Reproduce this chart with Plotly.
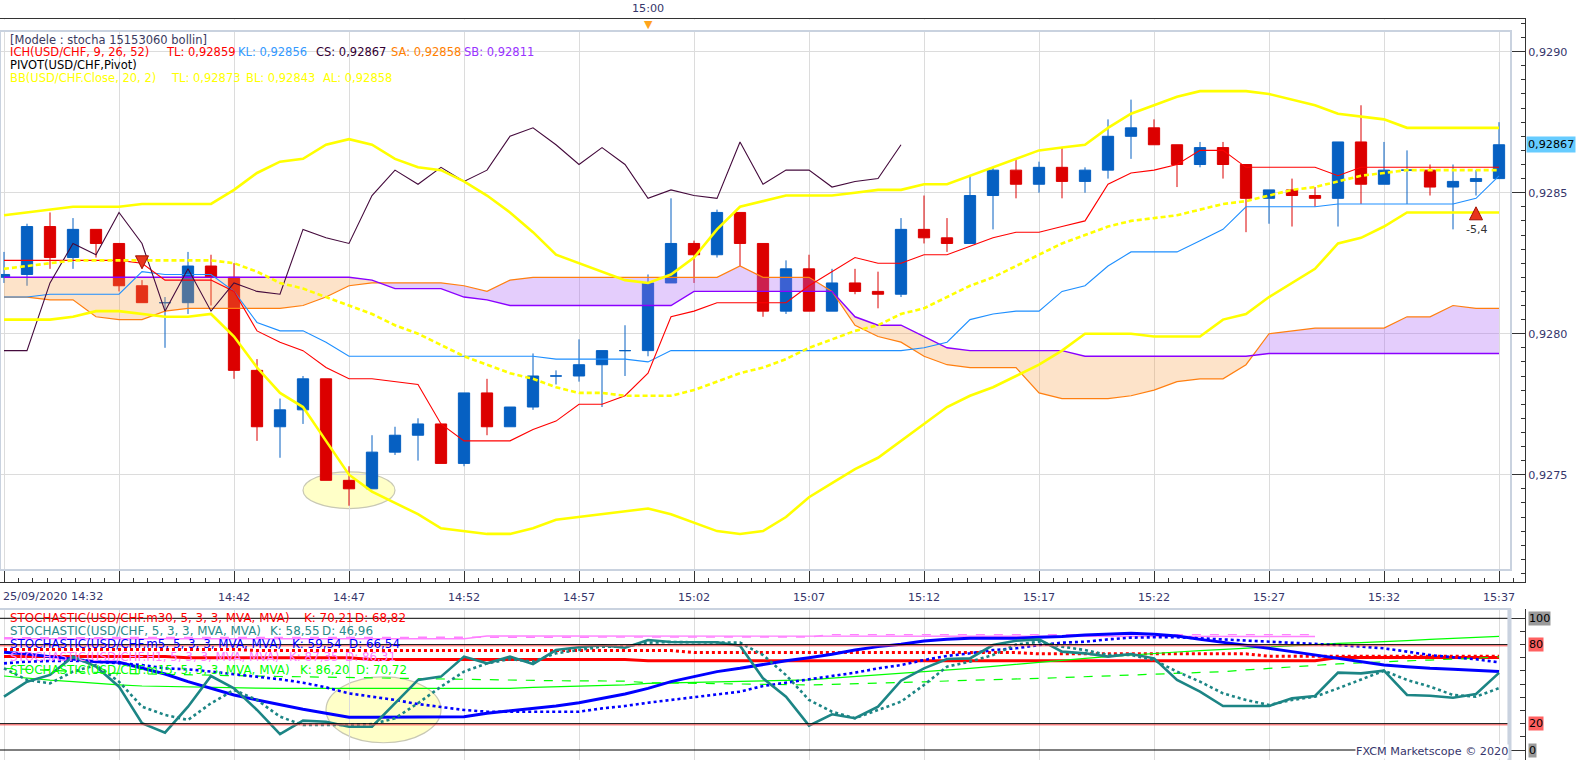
import plotly.graph_objects as go
import pandas as pd

# ---------------- data (USD/CHF, 1-minute bars, 25/09/2020) ----------------
START = "2020-09-25 14:32:00"
N_BARS = 66
times = [t.strftime("%Y-%m-%d %H:%M:%S") for t in pd.date_range(START, periods=N_BARS, freq="min")]

open_ = [0.92820, 0.92821, 0.92838, 0.92827, 0.92837, 0.92832, 0.92817, 0.92811, 0.92811, 0.92824,
         0.92820, 0.92787, 0.92767, 0.92773, 0.92784, 0.92748, 0.92745, 0.92758, 0.92764, 0.92768,
         0.92754, 0.92779, 0.92767, 0.92774, 0.92785, 0.92785, 0.92789, 0.92794, 0.92794, 0.92818,
         0.92832, 0.92828, 0.92843, 0.92832, 0.92808, 0.92823, 0.92808, 0.92818, 0.92815, 0.92814,
         0.92837, 0.92834, 0.92832, 0.92849, 0.92858, 0.92853, 0.92859, 0.92854, 0.92858, 0.92870,
         0.92873, 0.92867, 0.92860, 0.92866, 0.92860, 0.92848, 0.92851, 0.92849, 0.92848, 0.92868,
         0.92853, 0.92858, 0.92858, 0.92852, 0.92854, 0.92855]
high = [0.92829, 0.92839, 0.92843, 0.92841, 0.92837, 0.92832, 0.92819, 0.92813, 0.92829, 0.92828,
        0.92825, 0.92791, 0.92777, 0.92785, 0.92784, 0.92753, 0.92764, 0.92767, 0.92770, 0.92768,
        0.92779, 0.92784, 0.92774, 0.92793, 0.92787, 0.92798, 0.92794, 0.92803, 0.92821, 0.92848,
        0.92833, 0.92844, 0.92843, 0.92832, 0.92826, 0.92828, 0.92823, 0.92823, 0.92822, 0.92841,
        0.92849, 0.92841, 0.92856, 0.92859, 0.92862, 0.92861, 0.92866, 0.92859, 0.92876, 0.92883,
        0.92876, 0.92867, 0.92868, 0.92868, 0.92860, 0.92851, 0.92855, 0.92852, 0.92868, 0.92881,
        0.92868, 0.92865, 0.92860, 0.92860, 0.92858, 0.92875]
low = [0.92818, 0.92817, 0.92823, 0.92823, 0.92827, 0.92815, 0.92811, 0.92795, 0.92807, 0.92810,
       0.92784, 0.92762, 0.92756, 0.92768, 0.92748, 0.92739, 0.92745, 0.92757, 0.92755, 0.92754,
       0.92753, 0.92764, 0.92767, 0.92773, 0.92782, 0.92783, 0.92774, 0.92785, 0.92792, 0.92818,
       0.92818, 0.92827, 0.92824, 0.92806, 0.92807, 0.92808, 0.92808, 0.92814, 0.92809, 0.92813,
       0.92832, 0.92829, 0.92832, 0.92837, 0.92848, 0.92850, 0.92848, 0.92850, 0.92855, 0.92862,
       0.92867, 0.92852, 0.92859, 0.92855, 0.92836, 0.92839, 0.92838, 0.92845, 0.92838, 0.92846,
       0.92853, 0.92846, 0.92849, 0.92837, 0.92849, 0.92855]
close = [0.92821, 0.92838, 0.92827, 0.92837, 0.92832, 0.92817, 0.92811, 0.92811, 0.92824, 0.92820,
         0.92787, 0.92767, 0.92773, 0.92784, 0.92748, 0.92745, 0.92758, 0.92764, 0.92768, 0.92754,
         0.92779, 0.92767, 0.92774, 0.92785, 0.92785, 0.92789, 0.92794, 0.92794, 0.92818, 0.92832,
         0.92828, 0.92843, 0.92832, 0.92808, 0.92823, 0.92808, 0.92818, 0.92815, 0.92814, 0.92837,
         0.92834, 0.92832, 0.92849, 0.92858, 0.92853, 0.92859, 0.92854, 0.92858, 0.92870, 0.92873,
         0.92867, 0.92860, 0.92866, 0.92860, 0.92848, 0.92851, 0.92849, 0.92848, 0.92868, 0.92853,
         0.92858, 0.92858, 0.92852, 0.92854, 0.92855, 0.92867]

# Bollinger(20, 2)
bb_upper = [0.92842, 0.92843, 0.92844, 0.92845, 0.92845, 0.92845, 0.92846, 0.92846, 0.92846, 0.92846,
            0.92851, 0.92857, 0.92861, 0.92862, 0.92867, 0.92869, 0.92867, 0.92862, 0.92859, 0.92858,
            0.92854, 0.92849, 0.92843, 0.92836, 0.92828, 0.92825, 0.92822, 0.92819, 0.92818, 0.92821,
            0.92827, 0.92837, 0.92845, 0.92847, 0.92849, 0.92849, 0.92849, 0.92850, 0.92851, 0.92851,
            0.92853, 0.92853, 0.92856, 0.92859, 0.92862, 0.92865, 0.92866, 0.92867, 0.92873, 0.92878,
            0.92881, 0.92884, 0.92886, 0.92886, 0.92886, 0.92885, 0.92883, 0.92881, 0.92878, 0.92877,
            0.92876, 0.92873, 0.92873, 0.92873, 0.92873, 0.92873]
bb_mid = [0.92823, 0.92824, 0.92825, 0.92826, 0.92826, 0.92826, 0.92826, 0.92826, 0.92826, 0.92826,
          0.92825, 0.92822, 0.92818, 0.92816, 0.92813, 0.92810, 0.92807, 0.92803, 0.92800, 0.92796,
          0.92792, 0.92789, 0.92786, 0.92784, 0.92781, 0.92779, 0.92779, 0.92778, 0.92778, 0.92778,
          0.92780, 0.92783, 0.92786, 0.92788, 0.92791, 0.92795, 0.92798, 0.92801, 0.92803, 0.92807,
          0.92809, 0.92813, 0.92817, 0.92820, 0.92824, 0.92828, 0.92832, 0.92835, 0.92838, 0.92840,
          0.92841, 0.92842, 0.92844, 0.92846, 0.92847, 0.92849, 0.92851, 0.92852, 0.92854, 0.92856,
          0.92857, 0.92858, 0.92858, 0.92858, 0.92858, 0.92858]
bb_lower = [0.92805, 0.92805, 0.92805, 0.92806, 0.92808, 0.92808, 0.92807, 0.92806, 0.92806, 0.92807,
            0.92799, 0.92788, 0.92779, 0.92774, 0.92762, 0.92750, 0.92744, 0.92740, 0.92736, 0.92731,
            0.92730, 0.92729, 0.92729, 0.92731, 0.92734, 0.92735, 0.92736, 0.92737, 0.92738, 0.92736,
            0.92733, 0.92730, 0.92729, 0.92730, 0.92735, 0.92742, 0.92747, 0.92752, 0.92756, 0.92762,
            0.92768, 0.92774, 0.92778, 0.92781, 0.92785, 0.92789, 0.92794, 0.92800, 0.92800, 0.92800,
            0.92799, 0.92799, 0.92799, 0.92805, 0.92807, 0.92813, 0.92818, 0.92823, 0.92832, 0.92834,
            0.92838, 0.92843, 0.92843, 0.92843, 0.92843, 0.92843]

# Ichimoku(9, 26, 52)
tenkan = [0.92826, 0.92826, 0.92826, 0.92826, 0.92826, 0.92826, 0.92825, 0.92819, 0.92819, 0.92819,
          0.92815, 0.92801, 0.92797, 0.92794, 0.92788, 0.92784, 0.92784, 0.92783, 0.92782, 0.92768,
          0.92762, 0.92762, 0.92762, 0.92766, 0.92769, 0.92775, 0.92775, 0.92778, 0.92786, 0.92806,
          0.92808, 0.92811, 0.92811, 0.92811, 0.92811, 0.92817, 0.92822, 0.92827, 0.92825, 0.92825,
          0.92828, 0.92828, 0.92831, 0.92834, 0.92836, 0.92836, 0.92838, 0.92840, 0.92853, 0.92857,
          0.92858, 0.92860, 0.92865, 0.92865, 0.92859, 0.92859, 0.92859, 0.92859, 0.92856, 0.92859,
          0.92859, 0.92859, 0.92859, 0.92859, 0.92859, 0.92859]
kijun = [0.92813, 0.92813, 0.92814, 0.92814, 0.92814, 0.92814, 0.92822, 0.92821, 0.92821, 0.92821,
         0.92815, 0.92804, 0.92801, 0.92801, 0.92797, 0.92792, 0.92792, 0.92792, 0.92792, 0.92792,
         0.92792, 0.92792, 0.92792, 0.92792, 0.92791, 0.92791, 0.92791, 0.92791, 0.92790, 0.92794,
         0.92794, 0.92794, 0.92794, 0.92794, 0.92794, 0.92794, 0.92794, 0.92794, 0.92794, 0.92794,
         0.92795, 0.92797, 0.92805, 0.92807, 0.92808, 0.92808, 0.92815, 0.92817, 0.92824, 0.92829,
         0.92829, 0.92829, 0.92833, 0.92837, 0.92845, 0.92845, 0.92845, 0.92845, 0.92846, 0.92846,
         0.92846, 0.92846, 0.92846, 0.92846, 0.92848, 0.92856]
senkou_a = [0.92813, 0.92813, 0.92812, 0.92812, 0.92806, 0.92805, 0.92805, 0.92808, 0.92809, 0.92809,
            0.92809, 0.92809, 0.92809, 0.92810, 0.92813, 0.92817, 0.92818, 0.92818, 0.92818, 0.92818,
            0.92817, 0.92815, 0.92819, 0.92820, 0.92820, 0.92820, 0.92820, 0.92820, 0.92820, 0.92820,
            0.92820, 0.92820, 0.92824, 0.92820, 0.92820, 0.92820, 0.92815, 0.92803, 0.92799, 0.92797,
            0.92792, 0.92789, 0.92788, 0.92788, 0.92788, 0.92779, 0.92777, 0.92777, 0.92777, 0.92778,
            0.92780, 0.92783, 0.92784, 0.92784, 0.92789, 0.92800, 0.92801, 0.92802, 0.92802, 0.92802,
            0.92802, 0.92806, 0.92806, 0.92810, 0.92809, 0.92809]
senkou_b = [0.92820, 0.92820, 0.92820, 0.92820, 0.92820, 0.92820, 0.92820, 0.92820, 0.92820, 0.92820,
            0.92820, 0.92820, 0.92820, 0.92820, 0.92820, 0.92820, 0.92819, 0.92816, 0.92816, 0.92816,
            0.92813, 0.92812, 0.92810, 0.92810, 0.92810, 0.92810, 0.92810, 0.92810, 0.92810, 0.92810,
            0.92815, 0.92815, 0.92815, 0.92815, 0.92815, 0.92815, 0.92815, 0.92806, 0.92803, 0.92803,
            0.92799, 0.92795, 0.92794, 0.92794, 0.92794, 0.92794, 0.92794, 0.92792, 0.92792, 0.92792,
            0.92792, 0.92792, 0.92792, 0.92792, 0.92792, 0.92793, 0.92793, 0.92793, 0.92793, 0.92793,
            0.92793, 0.92793, 0.92793, 0.92793, 0.92793, 0.92793]
CHIKOU_SHIFT = 26   # chikou span = close plotted 26 bars back

# Stochastic(5, 3, 3) on several time frames
stoch_1m_k = [40.5, 51.9, 57.0, 70.9, 63.3, 48.1, 20.3, 13.2, 32.9, 56.2,
              46.8, 30.4, 12.1, 22.3, 21.5, 17.7, 17.7, 35.5, 53.2, 55.7,
              70.9, 65.8, 70.9, 65.3, 75.9, 78.0, 79.5, 77.7, 83.5, 82.0,
              81.8, 81.8, 79.2, 54.4, 40.5, 18.5, 27.1, 24.1, 32.9, 52.6,
              62.0, 69.1, 69.6, 79.7, 83.0, 84.0, 74.7, 73.4, 70.9, 72.9,
              69.6, 53.2, 44.3, 33.4, 33.4, 33.4, 39.2, 41.0, 58.7, 58.2,
              60.2, 41.8, 41.2, 39.7, 42.5, 58.55]
stoch_1m_d = [62.0, 53.2, 50.6, 59.5, 64.5, 51.9, 32.9, 26.6, 22.8, 35.5,
              45.6, 38.0, 25.3, 19.0, 19.0, 19.0, 19.7, 24.1, 35.5, 48.1,
              59.5, 65.8, 69.0, 67.1, 73.4, 75.9, 78.5, 78.5, 81.5, 82.0,
              81.8, 81.8, 81.5, 72.1, 56.9, 38.0, 29.1, 24.1, 30.4, 36.7,
              49.4, 63.3, 67.1, 72.1, 80.0, 82.2, 78.5, 75.9, 72.1, 72.1,
              68.3, 59.5, 51.9, 43.0, 38.0, 34.2, 38.0, 40.5, 46.8, 53.2,
              60.2, 53.2, 48.1, 41.8, 40.5, 46.96]
stoch_m5_k = [74.2, 72.9, 70.9, 68.9, 67.1, 66.6, 62.0, 57.7, 51.9, 46.8,
              41.8, 38.0, 34.2, 30.9, 27.9, 24.8, 24.8, 24.8, 24.8, 24.8,
              25.3, 27.9, 29.8, 31.6, 33.4, 35.9, 39.2, 42.5, 46.8, 51.9,
              55.7, 59.5, 62.0, 65.1, 67.8, 70.1, 72.7, 75.9, 78.5, 80.3,
              82.8, 84.0, 84.8, 84.8, 84.8, 85.6, 86.1, 87.3, 88.1, 88.6,
              87.8, 86.6, 84.0, 81.8, 79.7, 77.2, 74.7, 72.1, 69.6, 67.1,
              64.5, 63.3, 62.0, 61.3, 60.2, 59.54]
stoch_m5_d = [65.8, 67.1, 67.6, 67.8, 67.1, 65.8, 64.5, 62.0, 61.3, 59.5,
              57.7, 55.7, 53.7, 51.1, 47.6, 43.0, 40.5, 38.0, 34.9, 32.9,
              30.4, 29.1, 29.1, 29.1, 29.1, 29.1, 31.6, 33.4, 35.9, 38.0,
              39.7, 41.8, 44.3, 48.6, 51.1, 53.7, 56.2, 58.7, 62.0, 64.5,
              68.3, 71.4, 73.4, 75.9, 77.2, 79.7, 81.5, 82.2, 84.0, 85.3,
              85.6, 85.6, 84.8, 84.0, 83.0, 82.2, 81.5, 81.0, 79.7, 78.5,
              77.2, 74.7, 72.1, 70.4, 68.9, 66.54]
stoch_m30_k = [71.0, 71.0, 71.0, 71.0, 71.0, 71.0, 71.0, 71.0, 70.0, 70.0,
               70.0, 70.0, 70.0, 70.0, 70.0, 70.0, 68.8, 68.8, 68.8, 68.8,
               68.8, 68.8, 68.8, 68.8, 68.8, 68.8, 68.8, 68.8, 67.7, 67.7,
               67.7, 67.7, 67.7, 67.7, 67.7, 67.7, 67.7, 67.7, 67.7, 67.7,
               67.7, 67.7, 67.7, 67.7, 67.7, 67.7, 67.7, 67.7, 67.7, 67.7,
               67.7, 67.7, 67.7, 67.7, 67.7, 67.7, 67.7, 67.7, 70.2, 70.2,
               70.2, 70.2, 70.2, 70.2, 70.2, 70.21]
stoch_m30_d = [76.4, 76.4, 76.4, 76.4, 76.4, 76.4, 76.4, 76.4, 76.4, 76.4,
               76.4, 75.5, 75.5, 75.5, 75.5, 75.5, 75.5, 75.5, 75.5, 75.5,
               75.5, 75.5, 75.5, 75.5, 75.5, 75.5, 75.5, 75.5, 75.5, 75.5,
               74.0, 74.0, 74.0, 74.0, 74.0, 74.0, 74.0, 74.0, 74.0, 74.0,
               74.0, 74.0, 74.0, 74.0, 74.0, 73.0, 73.0, 73.0, 73.0, 73.0,
               73.0, 73.0, 73.0, 73.0, 73.0, 71.2, 71.2, 71.2, 71.2, 71.2,
               71.2, 71.2, 71.2, 71.2, 71.2, 71.2]
stoch_h1_k = [84.5, 84.5, 84.5, 84.5, 84.5, 84.5, 84.5, 84.5, 84.5, 84.5,
              84.5, 84.5, 84.5, 84.5, 84.5, 84.5, 84.5, 84.5, 84.5, 84.5,
              84.5, 86.6, 86.6, 86.6, 86.6, 86.6, 86.6, 86.6, 86.6, 86.6,
              86.6, 86.6, 86.6, 86.6, 86.6, 86.6, 86.2, 86.2, 86.2, 86.2,
              86.2, 86.2, 86.2, 86.2, 86.2, 86.2, 86.2, 86.2, 86.2, 86.2,
              86.2, 86.2, 86.2, 86.2, 86.2, 86.2, 86.2, 86.2]
stoch_h1_d = [85.3, 85.3, 85.3, 85.3, 85.3, 85.3, 85.3, 85.3, 85.3, 85.3,
              85.3, 85.3, 85.3, 85.3, 85.3, 85.3, 85.3, 85.3, 85.3, 85.3,
              85.3, 85.8, 85.8, 85.8, 85.8, 85.8, 85.8, 85.8, 85.8, 85.8,
              85.8, 85.8, 85.8, 85.8, 85.8, 85.8, 87.6, 87.6, 87.6, 87.6,
              87.6, 87.6, 87.6, 87.6, 87.6, 87.6, 87.6, 87.6, 87.6, 87.6,
              87.6, 87.6, 87.6, 87.6, 87.6, 87.6, 87.6, 87.6]
stoch_m15_k = [56.2, 54.5, 53.0, 51.9, 50.5, 49.5, 48.6, 48.2, 47.9, 47.6,
               47.3, 47.0, 46.8, 46.8, 46.8, 46.8, 46.8, 46.8, 46.8, 46.8,
               46.8, 46.8, 46.8, 47.5, 48.0, 48.5, 49.0, 49.4, 50.6, 51.0,
               51.3, 51.6, 51.9, 52.3, 52.8, 53.2, 54.5, 55.7, 56.9, 58.2,
               59.5, 60.8, 62.0, 63.5, 65.1, 66.6, 68.1, 69.6, 70.9, 72.2,
               73.4, 74.4, 75.5, 76.5, 77.4, 78.2, 79.0, 80.0, 81.0, 81.6,
               82.2, 83.1, 84.0, 84.8, 85.6, 86.2]
stoch_m15_d = [62.0, 61.2, 60.5, 59.7, 59.0, 58.2, 57.8, 57.4, 57.0, 56.6,
               56.2, 56.0, 55.8, 55.6, 55.4, 55.2, 54.9, 54.6, 54.3, 54.0,
               53.7, 53.4, 53.0, 52.8, 52.6, 52.5, 52.4, 52.3, 51.1, 50.8,
               50.5, 50.3, 50.1, 49.8, 49.6, 49.4, 49.8, 50.2, 50.6, 51.2,
               51.8, 52.4, 52.8, 53.2, 53.7, 54.4, 55.0, 55.7, 56.4, 57.0,
               57.7, 58.3, 58.9, 59.5, 60.8, 62.0, 63.3, 64.5, 65.4, 66.2,
               67.1, 67.7, 68.3, 68.9, 69.7, 70.72]

STOCH_LEVELS = [100, 80, 20, 0]
PRICE_TICKS = [0.9275, 0.9280, 0.9285, 0.9290]
TIME_TICK_LABELS = ["", "", "14:42", "14:47", "14:52", "14:57", "15:02", "15:07",
                    "15:12", "15:17", "15:22", "15:27", "15:32", "15:37"]
LAST_PRICE = 0.92867
SELL_SIGNAL = (6, 0.92823)     # (bar index, price)
BUY_SIGNAL = (64, 0.92845)
BUY_LABEL = (64, 0.92840, "-5,4")

# ---------------- styling / layout constants ----------------
W, H = 1583, 760
PLOT_W = 1525           # pixel of right axis line (margin r = W - PLOT_W)
FONT = "DejaVu Sans"
AX_COL = "#36366b"
BLUE = "#0660c2"
RED = "#dc0000"
GRID = "#dcdcdc"
FRAME = "#c9d2df"


def pxx(p):
    return p / PLOT_W


def pxy(p):
    return 1 - p / H


t0 = pd.Timestamp(START)


def tm(minutes):
    return (t0 + pd.Timedelta(minutes=minutes)).strftime("%Y-%m-%d %H:%M:%S.%f")


fig = go.Figure()

# ---------------- candles (split by drawn colour) ----------------
blue_idx = [i for i in range(N_BARS) if close[i] >= open_[i]]
red_idx = [i for i in range(N_BARS) if close[i] < open_[i]]


def sub(a, idx):
    return [a[i] for i in idx]


for idx, col in ((blue_idx, BLUE), (red_idx, RED)):
    fig.add_trace(go.Candlestick(
        x=sub(times, idx), open=sub(open_, idx), high=sub(high, idx),
        low=sub(low, idx), close=sub(close, idx),
        increasing=dict(line=dict(color=col, width=1), fillcolor=col),
        decreasing=dict(line=dict(color=col, width=1), fillcolor=col),
        whiskerwidth=0, showlegend=False, hoverinfo="skip",
        xaxis="x", yaxis="y"))

# ---------------- Ichimoku cloud ----------------
def cloud_regions(a, b):
    d = [a[i] - b[i] for i in range(len(a))]
    regs = []
    px_, pa, pb = [0], [a[0]], [b[0]]
    sign = 1 if d[0] > 0 else -1
    for i in range(1, len(a)):
        s = 1 if d[i] > 0 else (-1 if d[i] < 0 else sign)
        if s != sign:
            f = d[i - 1] / (d[i - 1] - d[i])
            xc = i - 1 + f
            yc = a[i - 1] + f * (a[i] - a[i - 1])
            px_.append(xc); pa.append(yc); pb.append(yc)
            regs.append((sign, px_, pa, pb))
            px_, pa, pb = [xc], [yc], [yc]
            sign = s
        px_.append(i); pa.append(a[i]); pb.append(b[i])
    regs.append((sign, px_, pa, pb))
    return regs


for sign, rx, ra, rb in cloud_regions(senkou_a, senkou_b):
    xs = [tm(v) for v in rx + rx[::-1]]
    ys = ra + rb[::-1]
    fig.add_trace(go.Scatter(
        x=xs, y=ys, fill="toself", mode="lines", line=dict(width=0),
        fillcolor="rgba(170,99,245,0.32)" if sign > 0 else "rgba(248,162,75,0.30)",
        hoverinfo="skip", showlegend=False, xaxis="x", yaxis="y"))


def line(y, color, width=1, dash=None, x=None, axis="1"):
    fig.add_trace(go.Scatter(
        x=x if x is not None else times[:len(y)], y=y, mode="lines",
        line=dict(color=color, width=width, dash=dash),
        hoverinfo="skip", showlegend=False,
        xaxis="x" if axis == "1" else "x2", yaxis="y" if axis == "1" else "y2"))


line(senkou_a, "#ff7f10", 1.2)
line(senkou_b, "#8a00ff", 1.4)
line(kijun, "#1e8fff", 1.1)
line(tenkan, "#ff0000", 1.1)
line(close[CHIKOU_SHIFT:], "#440a3c", 1.1, x=times[:N_BARS - CHIKOU_SHIFT])

# ---------------- Bollinger ----------------
line(bb_upper, "#ffff00", 2.6)
line(bb_lower, "#ffff00", 2.6)
line(bb_mid, "#ffff00", 2.6, dash="5px,3px")

# ---------------- signal arrows ----------------
fig.add_trace(go.Scatter(
    x=[times[SELL_SIGNAL[0]]], y=[SELL_SIGNAL[1]], mode="markers",
    marker=dict(symbol="arrow-down", size=13, color="#e8361c", line=dict(color="#a01000", width=1)),
    hoverinfo="skip", showlegend=False, xaxis="x", yaxis="y"))
fig.add_trace(go.Scatter(
    x=[times[BUY_SIGNAL[0]]], y=[BUY_SIGNAL[1]], mode="markers",
    marker=dict(symbol="arrow-up", size=13, color="#e8361c", line=dict(color="#a01000", width=1)),
    hoverinfo="skip", showlegend=False, xaxis="x", yaxis="y"))

# ---------------- stochastic panel ----------------
line(stoch_m30_d, "#ff0000", 3, dash="dot", axis="2")
line(stoch_m30_k, "#ff0000", 3, axis="2")
line(stoch_m15_d, "#00ff00", 1.2, dash="dash", axis="2")
line(stoch_m15_k, "#00ff00", 1.2, axis="2")
line(stoch_h1_d, "#ff80ff", 1.4, dash="dash", axis="2")
line(stoch_h1_k, "#ff80ff", 1.4, axis="2")
line(stoch_m5_d, "#0000ff", 2.6, dash="dot", axis="2")
line(stoch_m5_k, "#0000ff", 3, axis="2")
line(stoch_1m_d, "#1c8585", 2.6, dash="dot", axis="2")
line(stoch_1m_k, "#1c8585", 2.6, axis="2")

shapes = []
# level lines
for lv in STOCH_LEVELS:
    shapes.append(dict(type="line", xref="paper", yref="y2", x0=0, x1=pxx(1511), y0=lv, y1=lv,
                       line=dict(color="#000000", width=1), layer="above"))
for lv in (80, 20):
    shapes.append(dict(type="line", xref="paper", yref="y2", x0=0, x1=pxx(1511), y0=lv - 0.9, y1=lv - 0.9,
                       line=dict(color="#ff5050", width=1), layer="above"))
# highlight ellipses
shapes.append(dict(type="circle", xref="x", yref="y", x0=tm(13.0), x1=tm(17.0), y0=0.92738, y1=0.92751,
                   fillcolor="#ffffc8", line=dict(color="#c8c8b4", width=1.2), layer="below"))
shapes.append(dict(type="circle", xref="x2", yref="y2", x0=tm(14.0), x1=tm(19.0), y0=5.5, y1=55.5,
                   fillcolor="#ffffc8", line=dict(color="#c8c8b4", width=1.2), layer="below"))
# inner frames
shapes.append(dict(type="rect", xref="paper", yref="paper", x0=pxx(0), x1=pxx(1511), y0=pxy(570), y1=pxy(31),
                   line=dict(color=FRAME, width=2), layer="above"))
shapes.append(dict(type="rect", xref="paper", yref="paper", x0=pxx(1511) - 0.002, x1=pxx(1511), y0=pxy(760), y1=pxy(609),
                   line=dict(color=FRAME, width=1), fillcolor=FRAME, layer="above"))
shapes.append(dict(type="line", xref="paper", yref="paper", x0=0, x1=pxx(1511), y0=pxy(609), y1=pxy(609),
                   line=dict(color=FRAME, width=2), layer="above"))
# blank strip above the inner frame
shapes.append(dict(type="rect", xref="paper", yref="paper", x0=0, x1=pxx(1510), y0=pxy(30), y1=pxy(19.6),
                   line=dict(width=0), fillcolor="white", layer="above"))

# ---------------- annotations ----------------
ann = []


def txt(s, color, x, y, size=11.5, xanchor="left", **kw):
    ann.append(dict(text=s, x=pxx(x), y=pxy(y), xref="paper", yref="paper", showarrow=False,
                    xanchor=xanchor, yanchor="middle", font=dict(family=FONT, size=size, color=color), **kw))


txt("[Modele : stocha 15153060 bollin]", "#3a3a60", 8, 40)
for s, c, x in (("ICH(USD/CHF, 9, 26, 52)", "#ff0000", 8), ("TL: 0,92859", "#ff0000", 164),
                ("KL: 0,92856", "#3399ff", 236), ("CS: 0,92867", "#330033", 314),
                ("SA: 0,92858", "#ff8000", 389), ("SB: 0,92811", "#9933ff", 462)):
    txt(s, c, x, 52.5)
txt("PIVOT(USD/CHF,Pivot)", "#000000", 8, 65)
for s, x in (("BB(USD/CHF.Close, 20, 2)", 8), ("TL: 0,92873", 169), ("BL: 0,92843", 244), ("AL: 0,92858", 321)):
    txt(s, "#ffff00", x, 77.5)

stoch_legend = [
    ("STOCHASTIC(USD/CHF.m30, 5, 3, 3, MVA, MVA)", "K: 70,21", "D: 68,82", "#ff0000", 302, 353),
    ("STOCHASTIC(USD/CHF, 5, 3, 3, MVA, MVA)", "K: 58,55", "D: 46,96", "#2a8a8a", 268, 320),
    ("STOCHASTIC(USD/CHF.m5, 5, 3, 3, MVA, MVA)", "K: 59,54", "D: 66,54", "#0000ff", 290, 347),
    ("STOCHASTIC(USD/CHF.H1, 5, 3, 3, MVA, MVA)", "K: 87,35", "D: 86,31", "#ff80ff", 287, 343),
    ("STOCHASTIC(USD/CHF.m15, 5, 3, 3, MVA, MVA)", "K: 86,20", "D: 70,72", "#00ff00", 298, 354),
]
for j, (name, k, d, c, kx, dx) in enumerate(stoch_legend):
    yy = 617.5 + 13 * j
    txt(name, c, 8, yy, size=11.9)
    txt(k, c, kx, yy, size=11.9)
    txt(d, c, dx, yy, size=11.9)

txt("25/09/2020 14:32", AX_COL, 1, 596.5, size=11.2)
txt("FXCM Marketscope © 2020", AX_COL, 1509, 751, size=11.2, xanchor="right", bgcolor="white", borderpad=0)

# cursor time on top strip
ann.append(dict(text="15:00", x=times[28], y=pxy(8), xref="x", yref="paper", showarrow=False,
                font=dict(family=FONT, size=11.2, color=AX_COL), yanchor="middle"))
ann.append(dict(text="▼", x=times[28], y=pxy(24.5), xref="x", yref="paper", showarrow=False,
                font=dict(family=FONT, size=11, color="#ffa41c"), yanchor="middle"))

# last price tag
ann.append(dict(text="0,92867", x=pxx(1526), y=LAST_PRICE, xref="paper", yref="y", showarrow=False,
                xanchor="left", yanchor="middle", bgcolor="#66ccff", borderpad=1,
                font=dict(family=FONT, size=11.2, color="#000000")))
# signal label
ann.append(dict(text=BUY_LABEL[2], x=times[BUY_LABEL[0]], y=BUY_LABEL[1], xref="x", yref="y",
                showarrow=False, yanchor="top", font=dict(family=FONT, size=11, color="#333333")))
# stochastic axis labels
for lv, bg in ((100, "#9a9a9a"), (80, "#ff6060"), (20, "#ff6060"), (0, "#9a9a9a")):
    ann.append(dict(text=str(lv), x=pxx(1528), y=lv, xref="paper", yref="y2", showarrow=False,
                    xanchor="left", yanchor="middle", bgcolor=bg, borderpad=0,
                    font=dict(family=FONT, size=11.2, color="#000000")))

tickvals_t = [tm(5 * k) for k in range(14)]
x_range = [tm(-0.174), tm(66.13)]

fig.update_layout(
    width=W, height=H, margin=dict(l=0, r=W - PLOT_W, t=0, b=0),
    paper_bgcolor="white", plot_bgcolor="white", separators=", ",
    font=dict(family=FONT, size=11.2, color=AX_COL), showlegend=False,
    shapes=shapes, annotations=ann, hovermode=False,
    xaxis=dict(type="date", range=x_range, domain=[0, 1], anchor="y",
               rangeslider=dict(visible=False), showgrid=True, gridcolor=GRID, gridwidth=1,
               tickmode="array", tickvals=tickvals_t, ticktext=TIME_TICK_LABELS,
               ticks="inside", ticklen=12, tickcolor="#333333", tickwidth=1,
               showline=True, linecolor="#333333", linewidth=1, mirror=True,
               ticklabelstandoff=5, zeroline=False,
               tickfont=dict(family=FONT, size=11.2, color=AX_COL),
               minor=dict(dtick=37500, tick0=START, ticks="inside", ticklen=4,
                          tickcolor="#333333", showgrid=False)),
    yaxis=dict(domain=[(H - 582) / H, (H - 18.7) / H], range=[0.9271195, 0.929117],
               side="right", anchor="x", tickmode="array", tickvals=PRICE_TICKS, tickformat=".4f",
               ticks="inside", ticklen=14, tickcolor="#333333", showline=True, linecolor="#333333",
               linewidth=1, showgrid=True, gridcolor=GRID, zeroline=False,
               tickfont=dict(family=FONT, size=11.2, color=AX_COL),
               minor=dict(dtick=0.00005, tick0=0.9275, ticks="inside", ticklen=4,
                          tickcolor="#333333", showgrid=False)),
    xaxis2=dict(type="date", range=x_range, domain=[0, 1], anchor="y2", matches="x",
                showgrid=True, gridcolor=GRID, tickmode="array", tickvals=tickvals_t,
                showticklabels=False, ticks="", showline=False, zeroline=False),
    yaxis2=dict(domain=[0, (H - 609) / H], range=[-7.59, 107.06], side="right", anchor="x2",
                tickmode="array", tickvals=[0, 100], showticklabels=False,
                ticks="inside", ticklen=14, tickcolor="#333333", showline=True, linecolor="#333333",
                linewidth=1, showgrid=False, zeroline=False,
                minor=dict(dtick=10, tick0=0, ticks="inside", ticklen=5, tickcolor="#333333", showgrid=False)),
)

fig.write_html("out.html", config={"displayModeBar": False},
               post_script="document.body.style.margin='0px';document.body.style.overflow='hidden';")
